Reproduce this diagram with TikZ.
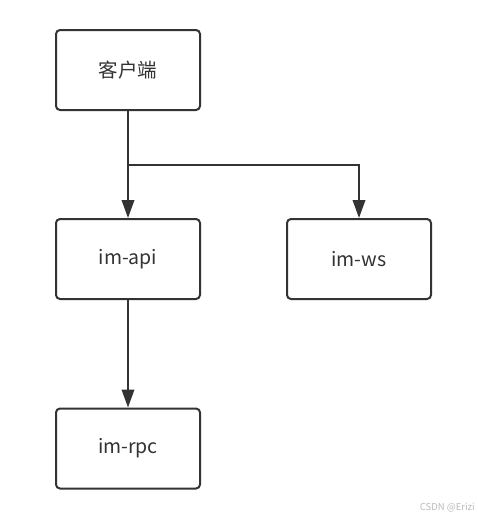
\documentclass[tikz,border=0pt]{standalone}
\usepackage{fontspec}
\setmainfont{Noto Sans CJK SC}
\usetikzlibrary{arrows.meta, calc}
\definecolor{ink}{HTML}{333333}
\definecolor{mark}{HTML}{BBBBBB}
\tikzset{
  every node/.style = {text=ink},
  imbox/.style  = {draw=ink, line width=2pt, fill=white, rounded corners=4pt,
                   minimum width=144pt, minimum height=80pt, inner sep=0pt,
                   font=\fontsize{19.5}{23}\selectfont},
  imgo/.style   = {-{Triangle[length=18pt,width=12.5pt]}, draw=ink, line width=2pt},
  imcap/.style  = {font=\fontsize{9.5}{11}\selectfont, text=mark, anchor=east, inner sep=0pt},
}

\begin{document}
\begin{tikzpicture}[x=1pt, y=-1pt]
\useasboundingbox[fill=white] (0,0) rectangle (478,523);

\node[imbox] (cli) at (128,70)    {客户端};
\node[imbox] (api) at (128,259)   {im-api};
\node[imbox] (ws)  at (359,259)   {im-ws};
\node[imbox] (rpc) at (128,448.5) {im-rpc};

\coordinate (split) at (128,165);

\draw[imgo] (cli) -- (api);
\draw[imgo] (split) -| (ws);
\draw[imgo] (api) -- (rpc);

\node[imcap] (wm) at (475,508) {CSDN @Erizi};
\end{tikzpicture}
\end{document}
